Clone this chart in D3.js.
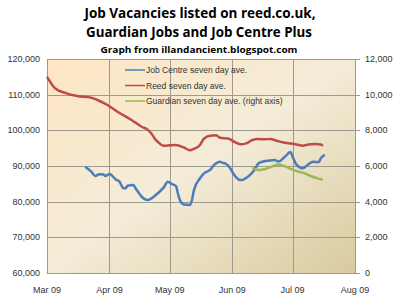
<!DOCTYPE html>
<html>
<head>
<meta charset="utf-8">
<script src="https://cdn.jsdelivr.net/npm/d3@7"></script>
<style>
    body { margin: 0; background: #ffffff; }
    .title { font-family: "Open Sans", sans-serif; font-weight: bold; fill: #000000; }
    .tick-label { font-family: "Liberation Sans", sans-serif; font-size: 9px; fill: #333333; }
    .legend--text { font-family: "Liberation Sans", sans-serif; font-size: 8.5px; fill: #333333; }
</style>
</head>
<body>
<div id="chart"></div>
<script>
// Title Data
const jobCentreDates = ["2009-03-20", "2009-03-23", "2009-03-25", "2009-03-27", "2009-03-29", "2009-03-30",
    "2009-04-01", "2009-04-02", "2009-04-04", "2009-04-06", "2009-04-08", "2009-04-09", "2009-04-10",
    "2009-04-13", "2009-04-14", "2009-04-16", "2009-04-17", "2009-04-20", "2009-04-22", "2009-04-25",
    "2009-04-28", "2009-04-30", "2009-05-02", "2009-05-04", "2009-05-05", "2009-05-06", "2009-05-08",
    "2009-05-11", "2009-05-12", "2009-05-13", "2009-05-16", "2009-05-18", "2009-05-21", "2009-05-23",
    "2009-05-26", "2009-05-27", "2009-05-29", "2009-05-31", "2009-06-02", "2009-06-05", "2009-06-07",
    "2009-06-10", "2009-06-12", "2009-06-14", "2009-06-16", "2009-06-19", "2009-06-22", "2009-06-24",
    "2009-06-27", "2009-06-30", "2009-07-01", "2009-07-03", "2009-07-06", "2009-07-09", "2009-07-11",
    "2009-07-14", "2009-07-15", "2009-07-17"];
const jobCentreValues = [89800, 88400, 87200, 87700, 87650, 87200,
    87750, 87450, 86300, 85600, 83750, 83750, 84450,
    84650, 83750, 82150, 81400, 80450, 80950, 82350,
    84000, 85600, 84950, 84400, 82350, 80450, 79200,
    79100, 80450, 83250, 86550, 87950, 88900, 90300,
    91200, 90950, 90550, 89350, 87450, 86050, 86350,
    87600, 88900, 90700, 91200, 91500, 91700, 91250,
    92500, 93900, 92600, 90300, 89350, 90550, 91200,
    91100, 92150, 93100];

const reedDates = ["2009-03-01", "2009-03-05", "2009-03-10", "2009-03-16", "2009-03-23", "2009-03-26",
    "2009-03-31", "2009-04-05", "2009-04-12", "2009-04-17", "2009-04-20", "2009-04-22", "2009-04-24",
    "2009-04-25", "2009-04-28", "2009-05-01", "2009-05-04", "2009-05-08", "2009-05-11", "2009-05-13",
    "2009-05-16", "2009-05-18", "2009-05-21", "2009-05-24", "2009-05-26", "2009-05-30", "2009-06-02",
    "2009-06-05", "2009-06-08", "2009-06-11", "2009-06-14", "2009-06-17", "2009-06-20", "2009-06-23",
    "2009-06-26", "2009-07-01", "2009-07-06", "2009-07-09", "2009-07-12", "2009-07-15", "2009-07-16"];
const reedValues = [115000, 111800, 110500, 109600, 109150, 108500,
    107100, 105200, 102900, 101000, 100200, 99000, 97300,
    96800, 95700, 95800, 95900, 95200, 94400, 94800,
    95900, 97700, 98500, 98600, 97900, 97700, 96800,
    96100, 96350, 97300, 97550, 97500, 97570, 97100,
    96650, 96250, 95700, 96050, 96150, 96050, 95600];

const guardianDates = ["2009-06-11", "2009-06-14", "2009-06-16", "2009-06-18", "2009-06-21", "2009-06-24",
    "2009-06-27", "2009-07-01", "2009-07-04", "2009-07-07", "2009-07-10", "2009-07-13", "2009-07-16"];
const guardianValues = [5900, 5770, 5800, 5850, 5980, 6090,
    5990, 5800, 5680, 5590, 5440, 5320, 5230];

const monthTicks = ["2009-03-01", "2009-04-01", "2009-05-01", "2009-06-01", "2009-07-01", "2009-08-01"];
const leftTicks = [60000, 70000, 80000, 90000, 100000, 110000, 120000];
const rightTicks = [0, 2000, 4000, 6000, 8000, 10000, 12000];

const seriesNames = ["Job Centre seven day ave.", "Reed seven day ave.", "Guardian seven day ave. (right axis)"];
const seriesColors = ["#4a7ebb", "#be4b48", "#98b954"];

// Title Draw Chart
function drawChart() {
    const width = 400;
    const height = 300;
    const margin = {top: 59, right: 45, bottom: 27, left: 47};
    const parse = d3.timeParse("%Y-%m-%d");

    const svg = d3.select("#chart")
        .append("svg")
        .attr("width", width)
        .attr("height", height);

    const xScale = d3.scaleTime()
        .domain([parse(monthTicks[0]), parse(monthTicks[monthTicks.length - 1])])
        .range([margin.left, width - margin.right]);

    const yLeft = d3.scaleLinear()
        .domain([60000, 120000])
        .range([height - margin.bottom, margin.top]);

    const yRight = d3.scaleLinear()
        .domain([0, 12000])
        .range([height - margin.bottom, margin.top]);

    // plot area background
    const grad = svg.append("defs")
        .append("linearGradient")
        .attr("id", "plotFill")
        .attr("x1", "0%").attr("y1", "0%")
        .attr("x2", "100%").attr("y2", "100%");
    grad.append("stop").attr("offset", "0%").attr("stop-color", "#fde6c3");
    grad.append("stop").attr("offset", "50%").attr("stop-color", "#f4ecd8");
    grad.append("stop").attr("offset", "100%").attr("stop-color", "#d9ca9e");

    svg.append("rect")
        .attr("x", margin.left)
        .attr("y", margin.top)
        .attr("width", width - margin.left - margin.right)
        .attr("height", height - margin.top - margin.bottom)
        .attr("fill", "url(#plotFill)");

    // gridlines
    svg.append("g")
        .selectAll("line")
        .data(leftTicks)
        .join("line")
        .attr("x1", margin.left)
        .attr("x2", width - margin.right)
        .attr("y1", d => Math.round(yLeft(d)) + 0.5)
        .attr("y2", d => Math.round(yLeft(d)) + 0.5)
        .attr("stroke", "#9e998c")
        .attr("stroke-width", 1);

    svg.append("g")
        .selectAll("line")
        .data(monthTicks)
        .join("line")
        .attr("x1", d => Math.round(xScale(parse(d))) + 0.5)
        .attr("x2", d => Math.round(xScale(parse(d))) + 0.5)
        .attr("y1", margin.top)
        .attr("y2", height - margin.bottom)
        .attr("stroke", "#9e998c")
        .attr("stroke-width", 1);

    // left axis labels
    svg.append("g")
        .selectAll("text")
        .data(leftTicks)
        .join("text")
        .attr("class", "tick-label")
        .attr("x", margin.left - 7)
        .attr("y", d => yLeft(d) + 3)
        .attr("text-anchor", "end")
        .text(d => d3.format(",")(d));

    // right axis ticks and labels
    svg.append("g")
        .selectAll("line")
        .data(rightTicks)
        .join("line")
        .attr("x1", width - margin.right)
        .attr("x2", width - margin.right + 5)
        .attr("y1", d => Math.round(yRight(d)) + 0.5)
        .attr("y2", d => Math.round(yRight(d)) + 0.5)
        .attr("stroke", "#9e998c");

    svg.append("g")
        .selectAll("text")
        .data(rightTicks)
        .join("text")
        .attr("class", "tick-label")
        .attr("x", width - margin.right + 10)
        .attr("y", d => yRight(d) + 3)
        .text(d => d3.format(",")(d));

    // x axis labels
    svg.append("g")
        .selectAll("text")
        .data(monthTicks)
        .join("text")
        .attr("class", "tick-label")
        .attr("x", d => xScale(parse(d)))
        .attr("y", height - margin.bottom + 20)
        .attr("text-anchor", "middle")
        .text(d => d3.timeFormat("%b %y")(parse(d)));

    // series lines
    const series = [
        {dates: jobCentreDates, values: jobCentreValues, y: yLeft},
        {dates: reedDates, values: reedValues, y: yLeft},
        {dates: guardianDates, values: guardianValues, y: yRight}
    ];

    series.forEach(function(s, i) {
        const points = s.dates.map((d, j) => [parse(d), s.values[j]]);
        const line = d3.line()
            .x(d => xScale(d[0]))
            .y(d => s.y(d[1]))
            .curve(d3.curveMonotoneX);

        svg.append("path")
            .attr("d", line(points))
            .attr("fill", "none")
            .attr("stroke", seriesColors[i])
            .attr("stroke-width", 2.5)
            .attr("stroke-linejoin", "round");
    });

    // legend
    seriesNames.forEach(function(d, i) {
        svg.append("line")
            .attr("x1", 125)
            .attr("x2", 145)
            .attr("y1", 70 + 15.5 * i)
            .attr("y2", 70 + 15.5 * i)
            .attr("stroke", seriesColors[i])
            .attr("stroke-width", 1.5);

        svg.append("text")
            .attr("class", "legend--text")
            .attr("x", 146)
            .attr("y", 73 + 15.5 * i)
            .text(d);
    });

    // titles
    svg.append("text")
        .attr("class", "title")
        .attr("x", 200)
        .attr("y", 18)
        .attr("text-anchor", "middle")
        .attr("font-size", "13.5px")
        .attr("textLength", 231)
        .attr("lengthAdjust", "spacingAndGlyphs")
        .text("Job Vacancies listed on reed.co.uk,");

    svg.append("text")
        .attr("class", "title")
        .attr("x", 199)
        .attr("y", 37)
        .attr("text-anchor", "middle")
        .attr("font-size", "13.5px")
        .attr("textLength", 226)
        .attr("lengthAdjust", "spacingAndGlyphs")
        .text("Guardian Jobs and Job Centre Plus");

    svg.append("text")
        .attr("class", "title")
        .attr("x", 199)
        .attr("y", 53)
        .attr("text-anchor", "middle")
        .attr("font-size", "9.5px")
        .attr("textLength", 197)
        .attr("lengthAdjust", "spacingAndGlyphs")
        .text("Graph from illandancient.blogspot.com");
}

drawChart();
</script>
</body>
</html>
